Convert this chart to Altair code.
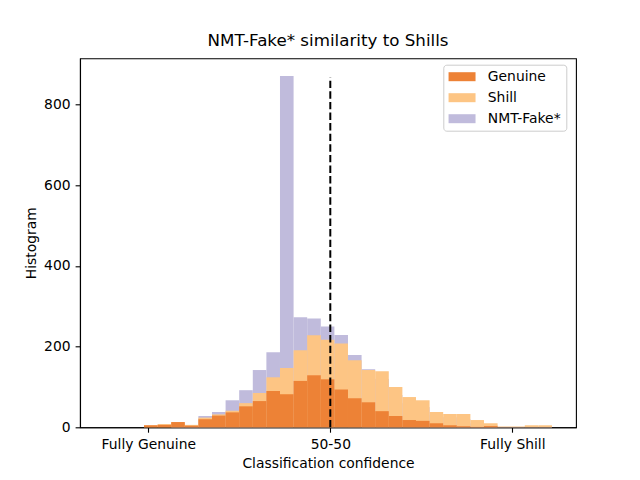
import altair as alt
import pandas as pd
import numpy as np

# ---- data ----
series_names = ["Genuine", "Shill", "NMT-Fake*"]
series_colors = ["#ED8236", "#FDC584", "#C0BBDC"]

bin_first_edge = -0.0118
bin_width = 0.03736

genuine = [5, 6, 13, 4, 20, 29, 37, 52, 65, 90, 82, 115, 129, 119, 94,
           72, 62, 40, 28, 18, 16, 10, 5, 2.5, 1, 3, 0, 0, 0, 0]
shill = [5, 8, 12, 6, 24, 32, 41, 60, 85, 124, 147, 191, 228, 217, 208,
         166, 142, 139, 100, 75, 67, 38, 33, 33, 18, 10, 2, 2, 5, 5]
nmt_fake = [0, 0, 2, 3, 28, 38, 67, 92, 142, 186, 871, 273, 270, 250, 229,
            179, 144, 120, 80, 60, 50, 30, 25, 20, 10, 5, 1, 1, 2, 2]

tick_values = [0, 0.5, 1]
tick_labels = ["Fully Genuine", "50-50", "Fully Shill"]

midline_x = 0.5
midline_top = 868

x_domain = [-0.1876, 1.175]
y_domain = [0, 915]

# ---- build table ----
n = len(genuine)
edges = bin_first_edge + bin_width * np.arange(n + 1)
rows = []
# draw order: NMT-Fake* behind, then Shill, then Genuine on top
for z, (name, vals) in enumerate([("NMT-Fake*", nmt_fake), ("Shill", shill), ("Genuine", genuine)]):
    for k, v in enumerate(vals):
        rows.append({"series": name, "x0": edges[k], "x1": edges[k + 1],
                     "count": v, "base": 0, "z": z})
df = pd.DataFrame(rows)

line_df = pd.DataFrame({"x": [midline_x], "y0": [0], "y1": [midline_top]})

FONT = "DejaVu Sans"
xs = alt.Scale(domain=x_domain, nice=False, zero=False)
ys = alt.Scale(domain=y_domain, nice=False)

label_expr = (
    "[" + ",".join("'" + t + "'" for t in tick_labels) + "]"
    + "[indexof([" + ",".join(str(v) for v in tick_values) + "], datum.value)]"
)

legend_symbol = "M-1,-0.667H3V0.667H-1Z"

bars = alt.Chart(df).mark_rect(strokeWidth=0).encode(
    x=alt.X("x0:Q", scale=xs,
            axis=alt.Axis(values=tick_values, labelExpr=label_expr,
                          title="Classification confidence")),
    x2="x1:Q",
    y=alt.Y("count:Q", scale=ys,
            axis=alt.Axis(values=[0, 200, 400, 600, 800], title="Histogram")),
    y2="base:Q",
    color=alt.Color("series:N",
                    scale=alt.Scale(domain=series_names, range=series_colors),
                    legend=alt.Legend(title=None, orient="none",
                                      legendX=363.3, legendY=6.4,
                                      symbolType=legend_symbol,
                                      symbolSize=182,
                                      symbolStrokeWidth=0,
                                      symbolOpacity=1,
                                      labelOffset=25.5,
                                      labelFontSize=13.9,
                                      labelFont=FONT,
                                      labelColor="black",
                                      rowPadding=7,
                                      padding=5,
                                      strokeColor="#cccccc",
                                      fillColor="rgba(255,255,255,0.8)",
                                      cornerRadius=3)),
    order=alt.Order("z:Q"),
)

midline = alt.Chart(line_df).mark_rule(
    color="black", strokeWidth=2, strokeDash=[7.4, 3.2]
).encode(
    x=alt.X("x:Q", scale=xs),
    y=alt.Y("y0:Q", scale=ys),
    y2="y1:Q",
)

chart = alt.layer(bars, midline).properties(
    width=496,
    height=369,
    title=alt.TitleParams("NMT-Fake* similarity to Shills", fontSize=16.7,
                          font=FONT, fontWeight="normal", color="black",
                          anchor="middle", offset=8.6),
    autosize=alt.AutoSizeParams(type="none"),
    padding={"left": 72, "top": 50.3, "right": 56, "bottom": 45},
).configure_view(
    stroke="black", strokeWidth=1.1
).configure_axis(
    grid=False,
    domainColor="black",
    domainWidth=1.1,
    tickColor="black",
    tickWidth=1.1,
    tickSize=4.9,
    labelPadding=5,
    labelFontSize=13.9,
    labelFont=FONT,
    labelColor="black",
    titleFontSize=13.9,
    titleFont=FONT,
    titleFontWeight="normal",
    titleColor="black",
    titlePadding=5,
    labelFlush=False,
    labelOverlap=False,
)

chart.save("out.html", embed_options={"renderer": "svg", "actions": False})
